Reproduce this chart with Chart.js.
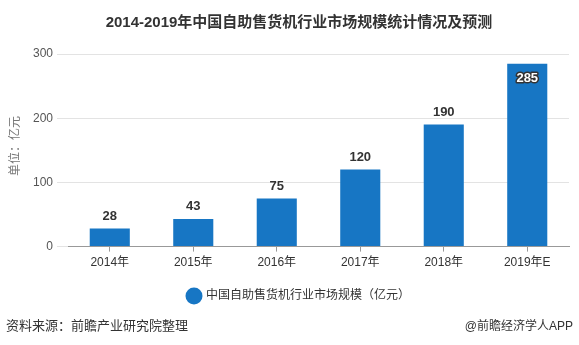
<!DOCTYPE html>
<html>
<head>
<meta charset="utf-8">
<script src="https://cdn.jsdelivr.net/npm/chart.js@4/dist/chart.umd.min.js"></script>
<style>
  html, body { margin: 0; padding: 0; background: #fff; }
  #wrap { position: relative; width: 579px; height: 345px; }
  canvas { position: absolute; left: 0; top: 0; }
  .foot { position: absolute; top: 318px; font-family: "Liberation Sans", "Noto Sans CJK SC", sans-serif; color: #333; font-size: 13px; line-height: 16px; }
  #src { left: 6px; }
  #brand { right: 6px; font-size: 12px; }
</style>
</head>
<body>
<div id="wrap">
  <canvas id="c" width="579" height="345"></canvas>
  <div class="foot" id="src">资料来源：前瞻产业研究院整理</div>
  <div class="foot" id="brand">@前瞻经济学人APP</div>
</div>
<script>
const FONT = '"Liberation Sans", "Noto Sans CJK SC", sans-serif';

const years = ['2014年', '2015年', '2016年', '2017年', '2018年', '2019年E'];
const marketSize = [28, 43, 75, 120, 190, 285];
const yTicks = [0, 100, 200, 300];
const seriesName = '中国自助售货机行业市场规模（亿元）';
const chartTitle = '2014-2019年中国自助售货机行业市场规模统计情况及预测';
const unitLabel = '单位：亿元';

// value labels above each bar; the tallest bar carries its label inside
const valueLabels = {
  id: 'valueLabels',
  afterDatasetsDraw(chart) {
    const ctx = chart.ctx;
    const meta = chart.getDatasetMeta(0);
    const data = chart.data.datasets[0].data;
    const maxVal = Math.max(...data);
    ctx.save();
    ctx.font = 'bold 13px ' + FONT;
    ctx.textAlign = 'center';
    meta.data.forEach((bar, i) => {
      const v = data[i];
      if (v === maxVal) {
        ctx.textBaseline = 'top';
        ctx.lineWidth = 3;
        ctx.strokeStyle = '#333';
        ctx.lineJoin = 'round';
        ctx.strokeText(String(v), bar.x, bar.y + 8);
        ctx.fillStyle = '#fff';
        ctx.fillText(String(v), bar.x, bar.y + 8);
      } else {
        ctx.textBaseline = 'bottom';
        ctx.fillStyle = '#333';
        ctx.fillText(String(v), bar.x, bar.y - 6);
      }
    });
    ctx.restore();
  }
};

// rotated unit caption beside the value axis
const unitCaption = {
  id: 'unitCaption',
  afterDraw(chart) {
    const ctx = chart.ctx;
    ctx.save();
    ctx.translate(16, 146);
    ctx.rotate(-Math.PI / 2);
    ctx.font = '12px ' + FONT;
    ctx.fillStyle = '#777';
    ctx.textAlign = 'center';
    ctx.textBaseline = 'middle';
    ctx.fillText(unitLabel, 0, 0);
    ctx.restore();
  }
};

new Chart(document.getElementById('c'), {
  type: 'bar',
  data: {
    labels: years,
    datasets: [{
      label: seriesName,
      data: marketSize,
      backgroundColor: '#1776c4',
      borderWidth: 0,
      categoryPercentage: 1.0,
      barPercentage: 0.48
    }]
  },
  options: {
    responsive: false,
    animation: false,
    layout: { padding: { left: 29, right: 10, top: 0, bottom: 33 } },
    plugins: {
      title: {
        display: true,
        text: chartTitle,
        color: '#333',
        font: { family: FONT, size: 15, weight: 'bold' },
        padding: { top: 14, bottom: 22 }
      },
      legend: {
        position: 'bottom',
        labels: {
          usePointStyle: true,
          pointStyle: 'circle',
          boxWidth: 12,
          boxHeight: 12,
          color: '#333',
          font: { family: FONT, size: 12 },
          padding: 14
        }
      },
      tooltip: { enabled: false }
    },
    scales: {
      x: {
        afterFit(scale) { scale.height += 2; },
        grid: {
          display: true,
          drawOnChartArea: false,
          drawTicks: true,
          tickLength: 5,
          offset: false,
          color: '#999'
        },
        border: { display: true, color: '#999', width: 1 },
        ticks: { color: '#333', font: { family: FONT, size: 12 }, padding: 4 }
      },
      y: {
        min: 0,
        max: 300,
        afterBuildTicks(scale) { scale.ticks = yTicks.map(v => ({ value: v })); },
        grid: { color: '#e3e3e3', tickLength: 11, drawTicks: true },
        border: { display: false },
        ticks: { color: '#555', font: { family: FONT, size: 12 }, padding: 4 }
      }
    }
  },
  plugins: [valueLabels, unitCaption]
});
</script>
</body>
</html>
